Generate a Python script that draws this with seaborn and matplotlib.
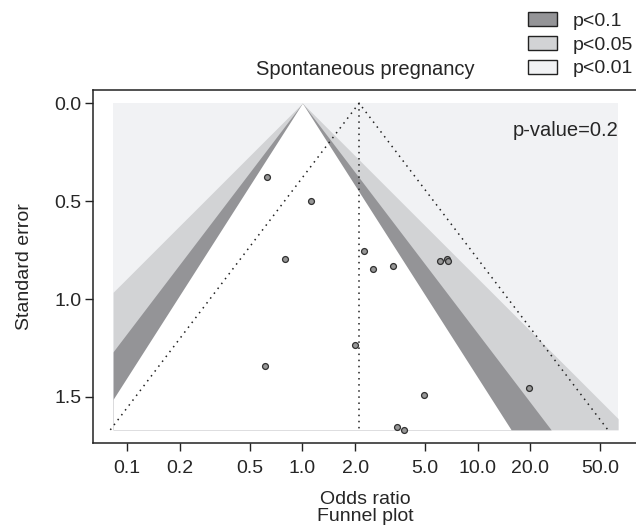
import numpy as np
import pandas as pd
import matplotlib
matplotlib.use("Agg")
import matplotlib.pyplot as plt
import seaborn as sns
from matplotlib.patches import Patch
from matplotlib.ticker import FixedLocator, FixedFormatter, NullLocator

# Studies (odds ratio, standard error)
odds_ratio = [0.625, 1.12, 0.794, 0.615, 2.25, 2.54, 3.31, 6.1, 6.67, 6.75,
              2.0, 4.92, 19.6, 3.46, 3.79]
std_error = [0.376, 0.50, 0.796, 1.342, 0.755, 0.845, 0.83, 0.806, 0.797, 0.805,
             1.236, 1.491, 1.452, 1.651, 1.668]
pooled_or = 2.107
p_value_text = "p-value=0.2"

# contour levels (two-sided z) and legend
contour_z = [2.576, 1.96, 1.645]
contour_labels = ["p<0.1", "p<0.05", "p<0.01"]
col_01, col_005, col_001 = "#949497", "#d2d3d5", "#f1f2f4"

x_ticks = [0.1, 0.2, 0.5, 1.0, 2.0, 5.0, 10.0, 20.0, 50.0]
x_tick_labels = ["0.1", "0.2", "0.5", "1.0", "2.0", "5.0", "10.0", "20.0", "50.0"]
y_ticks = [0.0, 0.5, 1.0, 1.5]
y_tick_labels = ["0.0", "0.5", "1.0", "1.5"]

df = pd.DataFrame({"or": odds_ratio, "se": std_error})

sns.set_style("ticks")
plt.rcParams["font.family"] = ["Liberation Sans", "DejaVu Sans"]
plt.rcParams["font.size"] = 14

fig = plt.figure(figsize=(6.36, 5.32), dpi=100)
ax = fig.add_axes([0.1462, 0.1673, 0.8574, 0.6635])

se_max = df["se"].max()
x_lo, x_hi = 10 ** -1.08, 10 ** 1.802

# contour-enhanced regions around OR = 1
ax.fill_between([x_lo, x_hi], 0, se_max, color=col_001, lw=0, zorder=0)
se_grid = np.linspace(0, se_max, 400)
for z, col in zip(contour_z, [col_005, col_01, "white"]):
    left = np.clip(np.exp(-z * se_grid), x_lo, x_hi)
    right = np.clip(np.exp(z * se_grid), x_lo, x_hi)
    ax.fill_betweenx(se_grid, left, right, color=col, lw=0, zorder=1)

# pseudo confidence funnel around the pooled estimate
est = np.log(pooled_or)
funnel = pd.DataFrame({
    "x": [np.exp(est - 1.96 * se_max), pooled_or, np.exp(est + 1.96 * se_max)],
    "y": [se_max, 0, se_max],
})
dot = (0, (1, 3))
ax.plot(funnel["x"], funnel["y"], color="#222222", lw=1.1, ls=dot, zorder=2)
ax.plot([pooled_or, pooled_or], [0, se_max], color="#222222", lw=1.1, ls=dot, zorder=2)

sns.scatterplot(data=df, x="or", y="se", ax=ax, s=18, color="#979797",
                edgecolor="#303030", linewidth=0.9, zorder=3, legend=False)

ax.set_xscale("log")
ax.set_xlim(10 ** -1.195, 10 ** 1.917)
ax.set_ylim(1.735, -0.067)
ax.xaxis.set_major_locator(FixedLocator(x_ticks))
ax.xaxis.set_major_formatter(FixedFormatter(x_tick_labels))
ax.xaxis.set_minor_locator(NullLocator())
ax.set_yticks(y_ticks)
ax.set_yticklabels(y_tick_labels)
ax.tick_params(direction="out", length=6, width=1, color="#222222", labelsize=14)
ax.tick_params(axis="x", pad=6)
ax.tick_params(axis="y", pad=2)
for sp in ax.spines.values():
    sp.set_linewidth(1.1)
    sp.set_color("#222222")

ax.set_xlabel("Odds ratio\nFunnel plot", linespacing=1.0, labelpad=10)
ax.set_ylabel("Standard error", labelpad=16)
ax.set_title("Spontaneous pregnancy", fontsize=14.5, pad=11)
ax.text(0.963, 0.884, p_value_text, transform=ax.transAxes, ha="right", va="center",
        fontsize=14.5)

handles = [Patch(facecolor=c, edgecolor="#222222", lw=1)
           for c in [col_01, col_005, col_001]]
fig.legend(handles, contour_labels, loc="upper left", bbox_to_anchor=(0.818, 0.992),
           frameon=False, handlelength=1.5, handleheight=0.75, handletextpad=0.8,
           labelspacing=0.3, borderaxespad=0, fontsize=14)

fig.savefig("out.png", dpi=100)
